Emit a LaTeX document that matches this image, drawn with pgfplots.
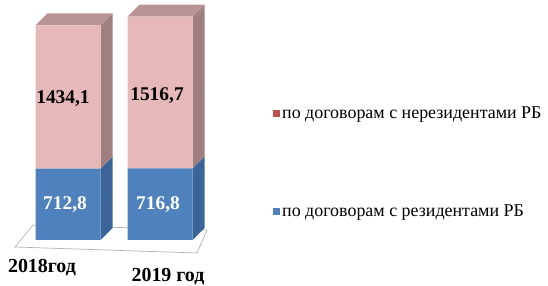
\documentclass[border=0pt]{standalone}
\usepackage{fontspec}
\setmainfont{Liberation Serif}
\usepackage{pgfplots}
\pgfplotsset{compat=1.18}
\definecolor{pinkF}{HTML}{E6B9B8}
\definecolor{pinkS}{HTML}{A07F81}
\definecolor{pinkT}{HTML}{B99496}
\definecolor{blueF}{HTML}{4F81BD}
\definecolor{blueS}{HTML}{3B6499}
\definecolor{legRed}{HTML}{C0504D}
\definecolor{legBlue}{HTML}{4F81BD}
\begin{document}
\begin{tikzpicture}
\pgfplotsset{base/.style={scale only axis, width=548bp, height=286bp,
  xmin=0, xmax=548, ymin=-460, ymax=2400, clip=false,
  axis line style={draw=none}, tick style={draw=none}, ytick=\empty}}
\begin{axis}[base, xtick=\empty, no markers]
% floor
\addplot[draw=gray!60, line width=0.7pt, fill=white] coordinates {(15,-70) (33,150) (207,100) (197,-130)} --cycle;
% 2018 side and top faces
\addplot[fill=blueS, draw=none] coordinates {(100.5,0) (112.5,120) (112.5,832.8) (100.5,712.8)} --cycle;
\addplot[fill=pinkS, draw=none] coordinates {(100.5,712.8) (112.5,832.8) (112.5,2266.9) (100.5,2146.9)} --cycle;
\addplot[fill=pinkT, draw=none] coordinates {(35.5,2146.9) (47.5,2266.9) (112.5,2266.9) (100.5,2146.9)} --cycle;
% 2019 side and top faces
\addplot[fill=blueS, draw=none] coordinates {(192.5,0) (204.5,120) (204.5,836.8) (192.5,716.8)} --cycle;
\addplot[fill=pinkS, draw=none] coordinates {(192.5,716.8) (204.5,836.8) (204.5,2353.5) (192.5,2233.5)} --cycle;
\addplot[fill=pinkT, draw=none] coordinates {(127.5,2233.5) (139.5,2353.5) (204.5,2353.5) (192.5,2233.5)} --cycle;
\end{axis}
\begin{axis}[base, ybar stacked, bar width=65,
  xtick={42,168}, xticklabels={2018год, \raisebox{-9bp}{2019 год}},
  xticklabel style={font=\rmfamily\fontsize{20}{23}\selectfont\bfseries, anchor=base, yshift=14bp},
  legend image code/.code={\fill[#1] (0bp,-3.5bp) rectangle (7bp,3.5bp);},
  legend style={at={(axis cs:270,1370)}, anchor=north west, draw=none, fill=none,
    font=\rmfamily\fontsize{18}{21}\selectfont, row sep=80bp},
  legend cell align=left]
\addplot[fill=blueF, draw=none, forget plot] coordinates {(68,712.8) (160,716.8)};
\addplot[fill=pinkF, draw=none, forget plot] coordinates {(68,1434.1) (160,1516.7)};
\addlegendimage{fill=legRed, draw=none}
\addlegendentry{по договорам с нерезидентами РБ}
\addlegendimage{fill=legBlue, draw=none}
\addlegendentry{по договорам с резидентами РБ}
\end{axis}
\begin{axis}[base, xtick=\empty]
\node[font=\rmfamily\fontsize{19.5}{22}\selectfont\bfseries] at (axis cs:63,1410) {1434,1};
\node[font=\rmfamily\fontsize{19.5}{22}\selectfont\bfseries] at (axis cs:157,1440) {1516,7};
\node[font=\rmfamily\fontsize{19.5}{22}\selectfont\bfseries, text=white] at (axis cs:65,356) {712,8};
\node[font=\rmfamily\fontsize{19.5}{22}\selectfont\bfseries, text=white] at (axis cs:158,358) {716,8};
\end{axis}
\pgfresetboundingbox
\path (current axis.south west) rectangle (current axis.north east);
\end{tikzpicture}
\end{document}
